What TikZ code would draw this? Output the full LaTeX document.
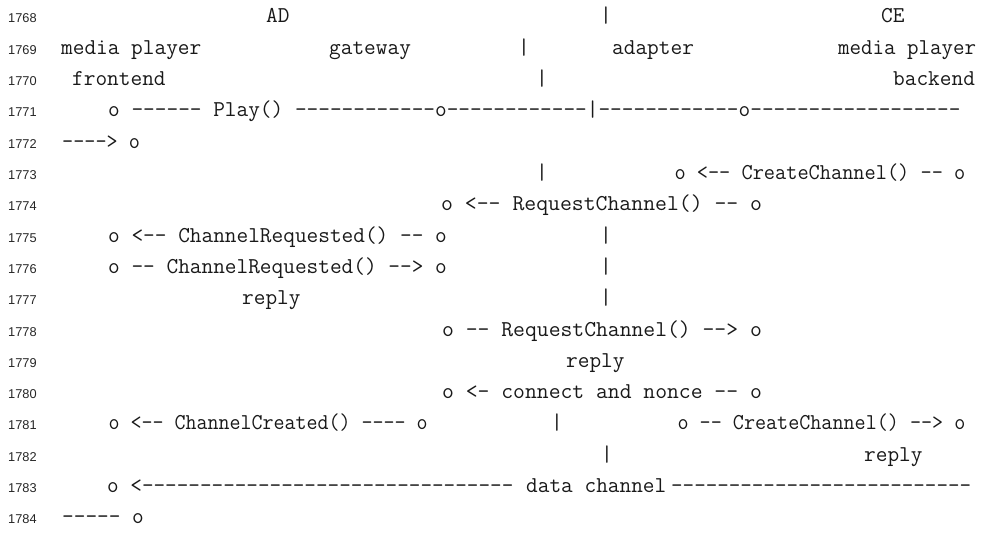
\documentclass[tikz,border=0pt]{standalone}
\usepackage{fontspec}
\newfontfamily\numfont{Liberation Sans}
\tikzset{
  code/.style={font=\ttfamily\fontsize{22.67}{23}\selectfont, anchor=base west, inner sep=0pt, text=black!90},
  bar/.style={code, anchor=base},
  lnum/.style={font=\numfont\fontsize{12.8}{13}\selectfont, anchor=base west, inner sep=0pt, text=black!85},
}
\newcommand\hs[2]{\scalebox{#1}[1]{#2}}
\begin{document}
\begin{tikzpicture}[x=1pt,y=-1pt]
\useasboundingbox (0,0) rectangle (982,535);
% line numbers
\foreach \k [evaluate=\k as \n using int(1768+\k)] in {0,...,16}
  \node[lnum] (n\k) at (8,{23+31.3*\k}) {\n};
% line 1768
\node[code] (ad) at (266,{23+31.3*0}) {AD};
\node[bar] (bar0) at (606,{23+31.3*0}) {|};
\node[code] (ce) at (881,{23+31.3*0}) {CE};
% line 1769
\node[code] (mpf) at (61,{23+31.3*1}) {media player};
\node[code] (gw) at (329,{23+31.3*1}) {gateway};
\node[bar] (bar1) at (524,{23+31.3*1}) {|};
\node[code] (adp) at (612,{23+31.3*1}) {adapter};
\node[code] (mpb) at (838,{23+31.3*1}) {\hs{0.985}{media player}};
% line 1770
\node[code] (fe) at (72,{23+31.3*2}) {frontend};
\node[bar] (bar2) at (542,{23+31.3*2}) {|};
\node[code] (be) at (893,{23+31.3*2}) {backend};
% line 1771-1772
\node[code] (play) at (108,{23+31.3*3}) {o ------ Play() ------------o------------|------------o------------------};
\node[code] (play2) at (62,{23+31.3*4}) {\hs{0.952}{----> o}};
% line 1773
\node[bar] (bar5) at (542,{23+31.3*5}) {|};
\node[code] (cc1) at (674.3,{23+31.3*5}) {\hs{0.958}{o <-- CreateChannel() -- o}};
% line 1774
\node[code] (rc1) at (441,{23+31.3*6}) {\hs{1.018}{o <-- RequestChannel() -- o}};
% line 1775
\node[code] (cr1) at (108,{23+31.3*7}) {o <-- ChannelRequested() -- o};
\node[bar] (bar7) at (606,{23+31.3*7}) {|};
% line 1776
\node[code] (cr2) at (108,{23+31.3*8}) {o -- ChannelRequested() --> o};
\node[bar] (bar8) at (606,{23+31.3*8}) {|};
% line 1777
\node[code] (rep1) at (242,{23+31.3*9}) {reply};
\node[bar] (bar9) at (606,{23+31.3*9}) {|};
% line 1778
\node[code] (rc2) at (442,{23+31.3*10}) {\hs{1.014}{o -- RequestChannel() --> o}};
% line 1779
\node[code] (rep2) at (566,{23+31.3*11}) {reply};
% line 1780
\node[code] (cn) at (442,{23+31.3*12}) {\hs{1.014}{o <- connect and nonce -- o}};
% line 1781
\node[code] (ccr) at (108.4,{23+31.3*13}) {\hs{0.942}{o <-- ChannelCreated() ---- o}};
\node[bar] (bar13) at (557,{23+31.3*13}) {|};
\node[code] (cc2) at (677.4,{23+31.3*13}) {\hs{0.948}{o -- CreateChannel() --> o}};
% line 1782
\node[bar] (bar14) at (607,{23+31.3*14}) {|};
\node[code] (rep3) at (864,{23+31.3*14}) {reply};
% line 1783-1784
\node[code] (dcl) at (107,{23+31.3*15}) {\hs{0.994}{o <--------------------------------}};
\node[code] (dct) at (526,{23+31.3*15}) {data channel};
\node[code] (dcr) at (671,{23+31.3*15}) {\hs{0.988}{--------------------------}};
\node[code] (dc2) at (62,{23+31.3*16}) {----- o};
\end{tikzpicture}
\end{document}
